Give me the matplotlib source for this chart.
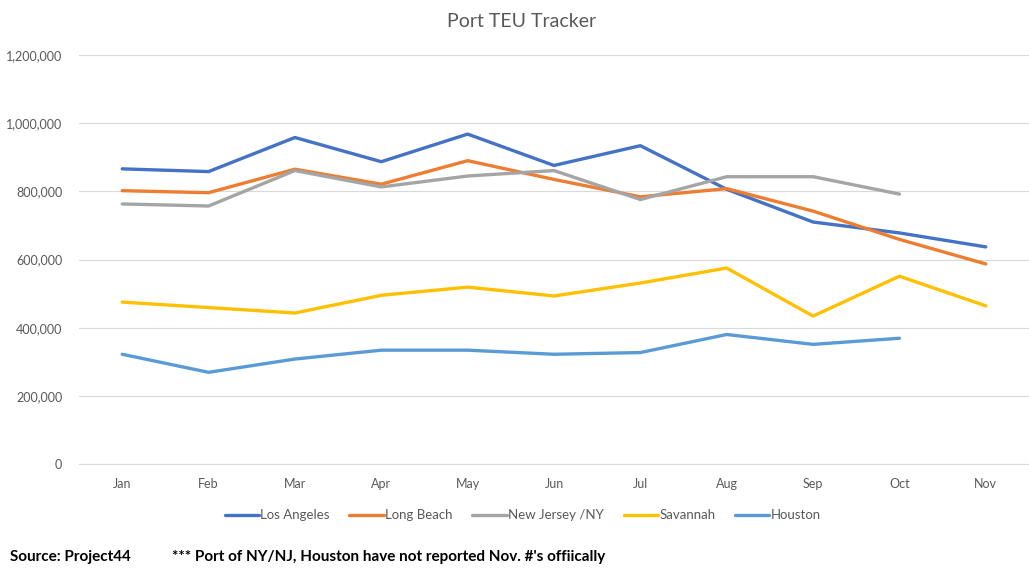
import matplotlib
matplotlib.use("Agg")
import matplotlib.pyplot as plt
import numpy as np
from matplotlib.ticker import FuncFormatter

months = ["Jan", "Feb", "Mar", "Apr", "May", "Jun", "Jul", "Aug", "Sep", "Oct", "Nov"]
los_angeles = [866000, 858000, 958000, 887000, 968000, 876000, 934000, 806000, 710000, 678000, 637000]
long_beach = [802000, 796000, 865000, 821000, 890000, 835000, 784000, 808000, 742000, 659000, 587000]
nj_ny = [763000, 757000, 861000, 813000, 845000, 861000, 776000, 843000, 843000, 792000, None]
savannah = [475000, 459000, 443000, 495000, 519000, 493000, 531000, 575000, 434000, 551000, 464000]
houston = [322000, 269000, 308000, 334000, 334000, 322000, 327000, 380000, 351000, 369000, None]

series = [
    ("Los Angeles", los_angeles, "#4472C4"),
    ("Long Beach", long_beach, "#ED7D31"),
    ("New Jersey /NY", nj_ny, "#A5A5A5"),
    ("Savannah", savannah, "#FFC000"),
    ("Houston", houston, "#5B9BD5"),
]

plt.rcParams["font.family"] = ["Lato", "DejaVu Sans"]

fig = plt.figure(figsize=(10.29, 5.72), dpi=100)
ax = fig.add_axes([0.0768, 0.1888, 0.9232, 0.715])

x = np.arange(len(months))
for name, vals, col in series:
    y = np.array([np.nan if v is None else v for v in vals], dtype=float)
    ax.plot(x, y, color=col, lw=2.4, label=name, solid_capstyle="round")

ax.set_xlim(-0.5, len(months) - 0.5)
ax.set_ylim(0, 1200000)
ax.set_yticks(np.arange(0, 1200001, 200000))
ax.yaxis.set_major_formatter(FuncFormatter(lambda v, p: f"{int(v):,}"))
ax.set_xticks(x)
ax.set_xticklabels(months)
ax.grid(axis="y", color="#D9D9D9", lw=0.8)
ax.set_axisbelow(True)
for s in ["top", "right", "left"]:
    ax.spines[s].set_visible(False)
ax.spines["bottom"].set_color("#D9D9D9")
ax.tick_params(axis="both", length=0, colors="#595959", labelsize=9)
ax.tick_params(axis="x", pad=10)
ax.tick_params(axis="y", pad=12)

fig.text(0.507, 0.962, "Port TEU Tracker", ha="center", va="center", fontsize=14, color="#595959")

leg = fig.legend(loc="center", bbox_to_anchor=(0.508, 0.099), ncol=5, frameon=False,
                 fontsize=9.5, handlelength=2.6, handletextpad=0.1, columnspacing=1.5)
for t in leg.get_texts():
    t.set_color("#595959")

fig.text(0.010, 0.027, "Source: Project44", fontsize=11, fontweight="bold", ha="left", va="center", color="black")
fig.text(0.167, 0.027, "*** Port of NY/NJ, Houston have not reported Nov. #'s offiically", fontsize=11,
         fontweight="bold", ha="left", va="center", color="black")

fig.savefig("out.png", dpi=100)
